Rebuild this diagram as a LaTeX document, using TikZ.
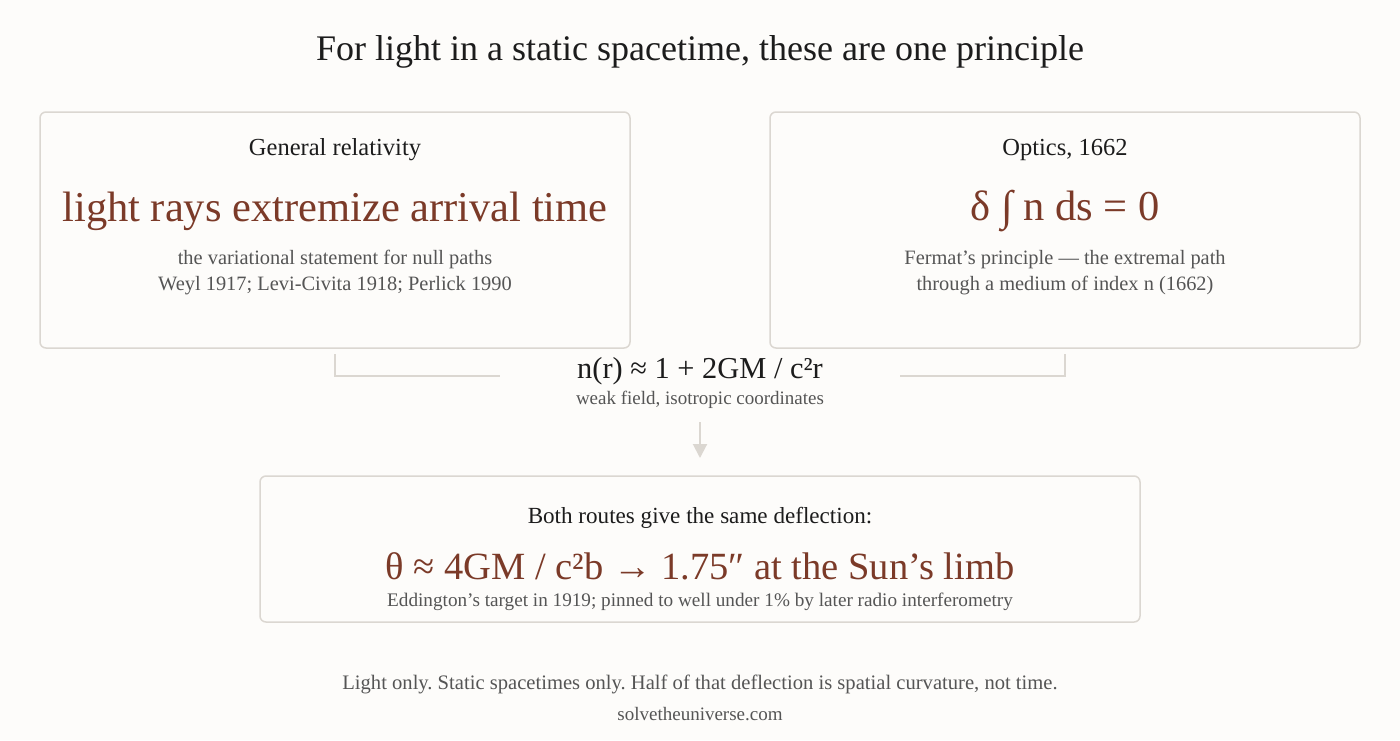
\documentclass[tikz,border=0pt]{standalone}
\usepackage{fontspec}
\setmainfont{Liberation Serif}
\usepackage{tikz}
\usetikzlibrary{arrows.meta}

\definecolor{bgc}{HTML}{FDFCFA}
\definecolor{inkc}{HTML}{1C1C1C}
\definecolor{rustc}{HTML}{7B3A28}
\definecolor{greyc}{HTML}{555555}
\definecolor{linec}{HTML}{DBD7D1}

\tikzset{
	panel/.style={draw=linec,line width=1.5pt,rounded corners=6pt,fill=bgc},
	head/.style={text=inkc,font=\fontsize{24.5}{28}\selectfont},
	big/.style={text=rustc,font=\fontsize{42.5}{48}\selectfont},
	note/.style={text=greyc,align=center,font=\fontsize{20.4}{26}\selectfont},
	link/.style={draw=linec,line width=1.5pt}
}

\begin{document}
\frenchspacing
\begin{tikzpicture}[x=1pt,y=-1pt]
		\useasboundingbox[fill=bgc] (0,0) rectangle (1400,740);
		
		\node[text=inkc,font=\fontsize{36}{42}\selectfont] (title) at (700,52) {For light in a static spacetime, these are one principle};
		
		% two routes
		\draw[panel] (40,112) rectangle (630,348);
		\draw[panel] (770,112) rectangle (1360,348);
		\coordinate (gr) at (335,348);
		\coordinate (op) at (1065,348);
		
		\node[head] (grhead) at (335,150) {General relativity};
		\node[big] (grbig) at (335,211) {light rays extremize arrival time};
		\node[note] (grnote) at (335,273) {the variational statement for null paths\\Weyl 1917; Levi-Civita 1918; Perlick 1990};
		
		\node[head] (ophead) at (1065,150) {Optics, 1662};
		\node[big] (opbig) at (1065,211) {δ ∫ n ds = 0};
		\node[note] (opnote) at (1065,273) {Fermat’s principle — the extremal path\\through a medium of index n (1662)};
		
		% meeting point
		\node[text=inkc,font=\fontsize{30.4}{34}\selectfont] (index) at (700,371) {n(r) ≈ 1 + 2GM / c²r};
		\node[note,font=\fontsize{19}{22}\selectfont] (indexnote) at (700,400) {weak field, isotropic coordinates};
		\coordinate (lj) at (500,376);
		\coordinate (rj) at (900,376);
		\draw[link] ([yshift=-6pt]gr) |- (lj);
		\draw[link] ([yshift=-6pt]op) |- (rj);
		
		% result
		\draw[panel] (260,476) rectangle (1140,622);
		\node[head,font=\fontsize{23.1}{26}\selectfont] (bothhead) at (700,518) {Both routes give the same deflection:};
		\node[big,font=\fontsize{38.5}{44}\selectfont] (bothbig) at (700,566) {θ ≈ 4GM / c²b → 1.75″ at the Sun’s limb};
		\node[note,font=\fontsize{19.2}{22}\selectfont] (bothnote) at (700,602) {Eddington’s target in 1919; pinned to well under 1\% by later radio interferometry};
		\coordinate (atop) at (700,422);
		\coordinate (abot) at (700,458);
		\draw[link,line width=2pt,-{Triangle[width=14pt,length=14pt]}] (atop) -- (abot);
		
		\node[note,font=\fontsize{20.6}{24}\selectfont] (foot) at (700,684) {Light only. Static spacetimes only. Half of that deflection is spatial curvature, not time.};
		\node[note,font=\fontsize{19}{22}\selectfont] (site) at (700,714) {solvetheuniverse.com};
	\end{tikzpicture}
\end{document}
